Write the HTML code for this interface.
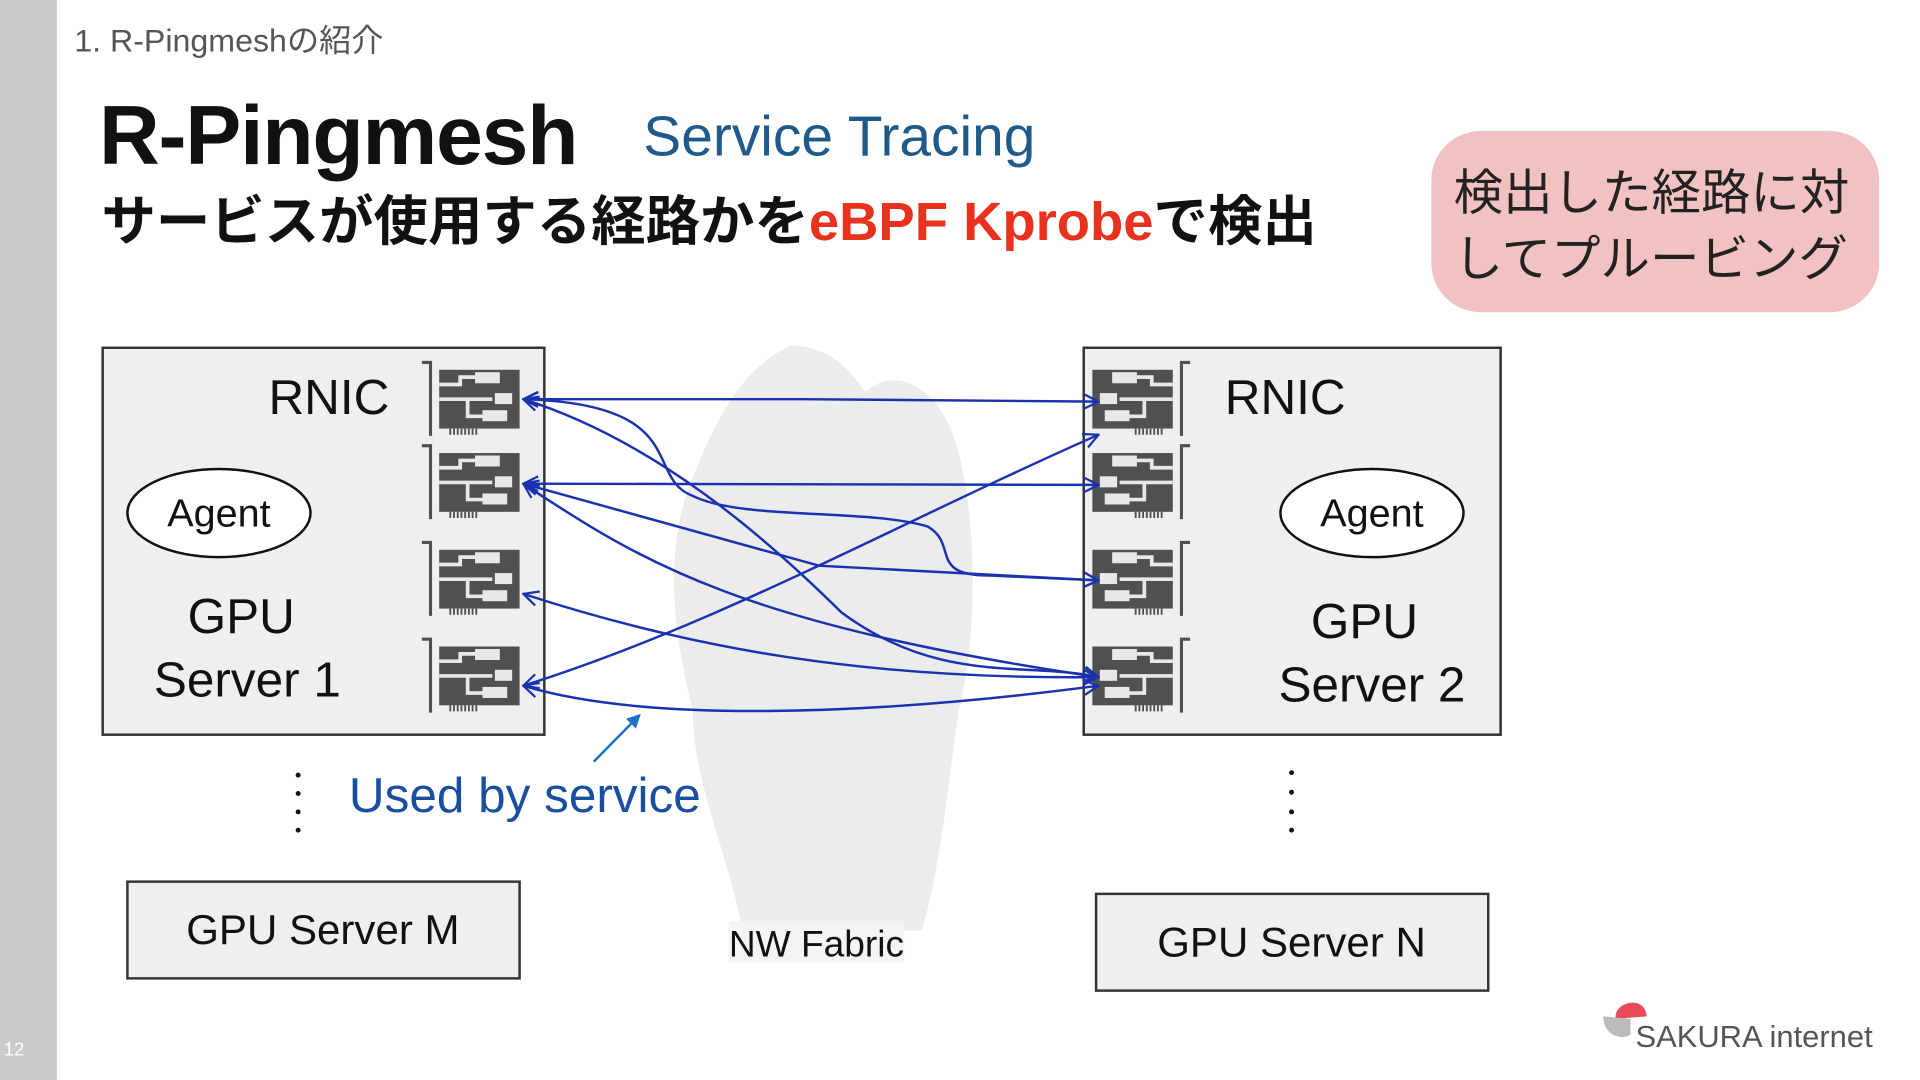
<!DOCTYPE html>
<html><head><meta charset="utf-8"><style>
html,body{margin:0;padding:0;background:#fff;}
svg{display:block}
text{font-family:"Liberation Sans","Noto Sans CJK JP",sans-serif;}
</style></head><body>
<svg width="1920" height="1080" viewBox="0 0 1552 882" preserveAspectRatio="none" xmlns="http://www.w3.org/2000/svg">
<defs>
<marker id="ah" viewBox="0 0 14 14" refX="13" refY="7" markerWidth="14" markerHeight="14" markerUnits="userSpaceOnUse" orient="auto-start-reverse">
<path d="M1,1 L13,7 L1,13" fill="none" stroke="#1a32b0" stroke-width="1.8"/>
</marker>
<g id="nic">
<rect x="9" y="6" width="65" height="48" fill="#505050"/>
<path d="M9,18 H26 V12 H38 M9,30 H32 V44 H46 M32,30 H52" stroke="#e8e8e8" stroke-width="3" fill="none"/>
<rect x="38" y="8" width="20" height="9" fill="#e8e8e8"/>
<rect x="54" y="25" width="14" height="9" fill="#e8e8e8"/>
<rect x="44" y="39" width="20" height="9" fill="#e8e8e8"/>
<path d="M18,54 v5 M21,54 v5 M24,54 v5 M27,54 v5 M30,54 v5 M33,54 v5 M36,54 v5 M39,54 v5" stroke="#505050" stroke-width="1.5"/>
</g>
</defs>
<rect width="1552" height="882" fill="#fff"/>
<rect x="0" y="0" width="46" height="882" fill="#cbcbcb"/>
<text x="3" y="862" font-size="15" fill="#fff">12</text>
<text x="60" y="42" font-size="26" fill="#555">1. R-Pingmeshの紹介</text>
<text x="80" y="134" font-size="68" fill="#111" font-weight="bold" letter-spacing="-1">R-Pingmesh</text>
<text x="520" y="127" font-size="46" fill="#1f5a8a">Service Tracing</text>
<text x="82" y="196" font-size="44" font-weight="bold" fill="#111">サービスが使用する経路かを<tspan fill="#e8321e">eBPF Kprobe</tspan>で検出</text>
<rect x="1157" y="107" width="362" height="148" rx="40" fill="#f2c2c2"/>
<text x="1175" y="171" font-size="40" fill="#222">検出した経路に対</text>
<text x="1175" y="225" font-size="40" fill="#222">してプルービング</text>

<path d="M600,760 C590,700 560,640 560,580 C545,520 535,450 560,390 C580,340 600,300 640,282 C680,285 690,310 700,320 C720,300 760,310 775,370 C790,430 790,520 775,580 C765,650 760,710 745,760 Z" fill="#ececec"/>

<rect x="83" y="284" width="357" height="316" fill="#efefef" stroke="#333" stroke-width="2"/>
<rect x="876" y="284" width="337" height="316" fill="#efefef" stroke="#333" stroke-width="2"/>

<text x="217" y="338" font-size="40" fill="#111">RNIC</text>
<ellipse cx="177" cy="419" rx="74" ry="36" fill="#fff" stroke="#111" stroke-width="2"/>
<text x="177" y="430" font-size="32" fill="#111" text-anchor="middle">Agent</text>
<text x="195" y="517" font-size="40" fill="#111" text-anchor="middle">GPU</text>
<text x="200" y="569" font-size="40" fill="#111" text-anchor="middle">Server 1</text>

<text x="990" y="338" font-size="40" fill="#111">RNIC</text>
<ellipse cx="1109" cy="419" rx="74" ry="36" fill="#fff" stroke="#111" stroke-width="2"/>
<text x="1109" y="430" font-size="32" fill="#111" text-anchor="middle">Agent</text>
<text x="1103" y="521" font-size="40" fill="#111" text-anchor="middle">GPU</text>
<text x="1109" y="573" font-size="40" fill="#111" text-anchor="middle">Server 2</text>

<g>
<use href="#nic" x="346" y="296"/><use href="#nic" x="346" y="364"/><use href="#nic" x="346" y="443"/><use href="#nic" x="346" y="522"/>
<path d="M341,296 h7 v60 M341,364 h7 v60 M341,443 h7 v60 M341,522 h7 v60" stroke="#505050" stroke-width="2.5" fill="none"/>
</g>
<g transform="translate(1845,0) scale(-1,1)">
<use href="#nic" x="888" y="296"/><use href="#nic" x="888" y="364"/><use href="#nic" x="888" y="443"/><use href="#nic" x="888" y="522"/>
<path d="M883,296 h7 v60 M883,364 h7 v60 M883,443 h7 v60 M883,522 h7 v60" stroke="#505050" stroke-width="2.5" fill="none"/>
</g>

<g fill="none" stroke="#1a32b0" stroke-width="2" marker-start="url(#ah)" marker-end="url(#ah)">
<path d="M423,326 L650,326 L888,328"/>
<path d="M423,395 L888,396"/>
<path d="M423,326 C530,360 620,440 680,500 C760,560 830,540 888,553"/>
<path d="M423,326 C560,330 520,390 560,405 C600,425 700,415 750,430 C775,445 750,470 800,470 L888,474"/>
<path d="M423,395 L662,462 L888,474"/>
<path d="M423,395 C520,460 600,510 888,553"/>
<path d="M423,485 C560,530 700,555 888,553"/>
<path d="M423,560 C580,510 720,430 888,355"/>
<path d="M423,560 C520,590 700,585 888,560"/>
</g>

<path d="M480,622 L516,585" stroke="#1a73c8" stroke-width="2"/>
<path d="M506,587 L518,583 L514,595 Z" fill="#1a73c8"/>

<g fill="#111"><circle cx="241" cy="633" r="2"/><circle cx="241" cy="648" r="2"/><circle cx="241" cy="663" r="2"/><circle cx="241" cy="678" r="2"/>
<circle cx="1044" cy="631" r="2"/><circle cx="1044" cy="647" r="2"/><circle cx="1044" cy="663" r="2"/><circle cx="1044" cy="678" r="2"/></g>
<text x="282" y="663" font-size="40" fill="#1a4fa0">Used by service</text>

<rect x="103" y="720" width="317" height="79" fill="#efefef" stroke="#333" stroke-width="2"/>
<text x="261" y="771" font-size="34" fill="#111" text-anchor="middle">GPU Server M</text>
<rect x="886" y="730" width="317" height="79" fill="#efefef" stroke="#333" stroke-width="2"/>
<text x="1044" y="781" font-size="34" fill="#111" text-anchor="middle">GPU Server N</text>
<rect x="589" y="752" width="142" height="34" fill="#f4f4f4"/>
<text x="660" y="781" font-size="30" fill="#111" text-anchor="middle">NW Fabric</text>

<path d="M1306,832 C1304,818 1330,812 1331,830 Z" fill="#e84a5a"/>
<path d="M1296,830 C1296,845 1310,850 1318,845 L1318,832 Z" fill="#bbb"/>
<text x="1322" y="855" font-size="25" fill="#555">SAKURA internet</text>
</svg>
</body></html>
